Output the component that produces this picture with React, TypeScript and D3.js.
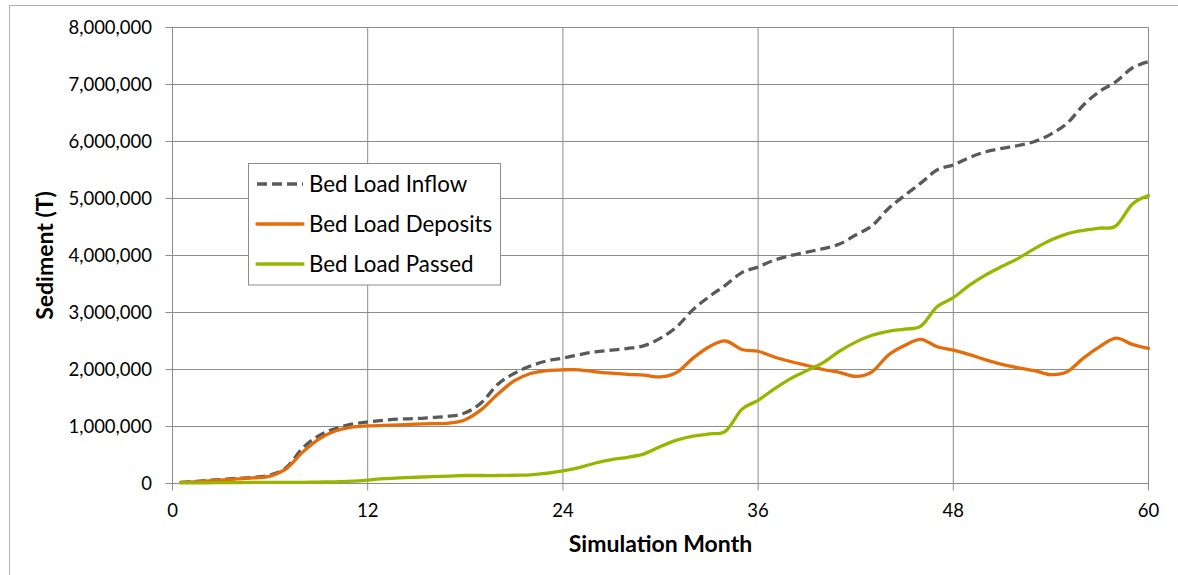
import React from "react";
import * as d3 from "d3";

const months = [0.5, 1, 2, 3, 4, 5, 6, 7, 8, 9, 10, 11, 12, 13, 14, 15, 16, 17, 18, 19, 20, 21, 22, 23, 24, 25, 26, 27, 28, 29, 30, 31, 32, 33, 34, 35, 36, 37, 38, 39, 40, 41, 42, 43, 44, 45, 46, 47, 48, 49, 50, 51, 52, 53, 54, 55, 56, 57, 58, 59, 60];

// values in millions of tonnes
const inflow = [0.02, 0.03, 0.05, 0.07, 0.09, 0.11, 0.15, 0.28, 0.62, 0.84, 0.96, 1.04, 1.08, 1.11, 1.13, 1.14, 1.16, 1.18, 1.24, 1.42, 1.74, 1.93, 2.06, 2.15, 2.2, 2.26, 2.31, 2.34, 2.37, 2.42, 2.55, 2.75, 3.05, 3.28, 3.48, 3.7, 3.8, 3.92, 4.0, 4.06, 4.12, 4.2, 4.36, 4.52, 4.82, 5.05, 5.27, 5.5, 5.59, 5.72, 5.82, 5.88, 5.93, 6.0, 6.13, 6.32, 6.64, 6.88, 7.05, 7.29, 7.4];
const deposits = [0.02, 0.025, 0.04, 0.06, 0.08, 0.1, 0.13, 0.26, 0.55, 0.78, 0.92, 0.99, 1.01, 1.02, 1.03, 1.04, 1.05, 1.06, 1.12, 1.3, 1.57, 1.8, 1.93, 1.98, 1.995, 1.995, 1.96, 1.935, 1.915, 1.9, 1.87, 1.95, 2.2, 2.4, 2.5, 2.35, 2.32, 2.22, 2.14, 2.07, 2.0, 1.95, 1.88, 1.96, 2.25, 2.42, 2.53, 2.4, 2.34, 2.26, 2.17, 2.09, 2.03, 1.98, 1.91, 1.96, 2.2, 2.4, 2.55, 2.44, 2.37];
const passed = [0.01, 0.01, 0.012, 0.014, 0.016, 0.018, 0.02, 0.02, 0.02, 0.025, 0.03, 0.04, 0.06, 0.085, 0.1, 0.11, 0.12, 0.13, 0.14, 0.14, 0.14, 0.145, 0.15, 0.18, 0.22, 0.28, 0.36, 0.42, 0.46, 0.52, 0.65, 0.76, 0.83, 0.87, 0.92, 1.3, 1.46, 1.66, 1.84, 1.98, 2.12, 2.32, 2.48, 2.6, 2.67, 2.71, 2.76, 3.1, 3.26, 3.48, 3.66, 3.81, 3.95, 4.12, 4.27, 4.38, 4.44, 4.48, 4.52, 4.9, 5.05];

const xTicks = [0, 12, 24, 36, 48, 60];
const yTicks = [0, 1000000, 2000000, 3000000, 4000000, 5000000, 6000000, 7000000, 8000000];

const seriesNames = ["Bed Load Inflow", "Bed Load Deposits", "Bed Load Passed"];
const seriesColors = ["#595959", "#E46C0A", "#98B500"];
const seriesDash = ["10,5", "none", "none"];
const seriesValues = [inflow, deposits, passed];

const FONT = "Lato, 'DejaVu Sans', sans-serif";

export default function App() {
  const W = 1178;
  const H = 575;
  const x = d3.scaleLinear().domain([0, 60]).range([172.5, 1148.5]);
  const y = d3.scaleLinear().domain([0, 8000000]).range([483.5, 27.5]);
  const fmt = d3.format(",");
  const line = d3
    .line<[number, number]>()
    .x((d) => x(d[0]))
    .y((d) => y(d[1] * 1e6))
    .curve(d3.curveCardinal.tension(0));

  const gridColor = "#8c8c8c";

  return (
    <svg
      width={W}
      height={H}
      style={{ position: "absolute", left: 0, top: 0, background: "#fff" }}
      fontFamily={FONT}
    >
      <rect x={0} y={0} width={W} height={H} fill="#fff" />
      <rect x={9.5} y={5.5} width={1300} height={700} fill="none" stroke="#b0b0b0" strokeWidth={1} />

      {/* horizontal gridlines */}
      {yTicks.map((t) => (
        <line key={"gy" + t} x1={x(0) - 7} x2={x(60)} y1={y(t)} y2={y(t)} stroke={gridColor} strokeWidth={1} />
      ))}
      {/* vertical gridlines */}
      {xTicks.map((t) => (
        <line key={"gx" + t} x1={x(t)} x2={x(t)} y1={y(8000000)} y2={y(0) + 7} stroke={gridColor} strokeWidth={1} />
      ))}

      {/* y tick labels */}
      {yTicks.map((t) => (
        <text key={"ty" + t} x={152} y={y(t)} dy="0.36em" textAnchor="end" fontSize={18.5} fill="#000">
          {fmt(t)}
        </text>
      ))}
      {/* x tick labels */}
      {xTicks.map((t) => (
        <text key={"tx" + t} x={x(t)} y={517} textAnchor="middle" fontSize={18.5} fill="#000">
          {t}
        </text>
      ))}

      {/* series */}
      {seriesValues.map((vals, i) => (
        <path
          key={"s" + i}
          d={line(months.map((m, j) => [m, vals[j]] as [number, number])) || ""}
          fill="none"
          stroke={seriesColors[i]}
          strokeWidth={3.3}
          strokeDasharray={seriesDash[i]}
          strokeLinejoin="round"
          strokeLinecap={i === 0 ? "butt" : "round"}
        />
      ))}

      {/* axis titles */}
      <text x={660.5} y={552} textAnchor="middle" fontSize={23} fontWeight="bold" fill="#000">
        Simulation Month
      </text>
      <text
        transform={`translate(53,255.5) rotate(-90)`}
        textAnchor="middle"
        fontSize={23}
        fontWeight="bold"
        fill="#000"
      >
        Sediment (T)
      </text>

      {/* legend */}
      <rect x={248.5} y={163.5} width={252} height={121.5} fill="#fff" stroke="#8c8c8c" strokeWidth={1} />
      {seriesNames.map((n, i) => {
        const cy = 184 + i * 40;
        return (
          <g key={"l" + i}>
            <line
              x1={257}
              x2={303}
              y1={cy}
              y2={cy}
              stroke={seriesColors[i]}
              strokeWidth={3.3}
              strokeDasharray={seriesDash[i]}
              strokeLinecap={i === 0 ? "butt" : "round"}
            />
            <text x={309} y={cy} dy="0.36em" fontSize={22.3} fill="#000">
              {n}
            </text>
          </g>
        );
      })}
    </svg>
  );
}
